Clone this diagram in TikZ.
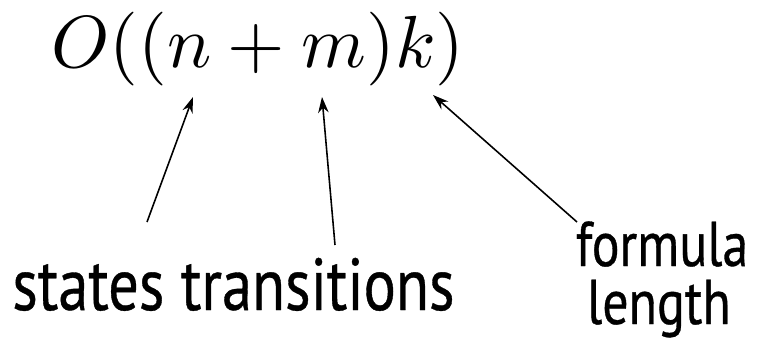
\documentclass[tikz,border=0pt]{standalone}
\usepackage{amsmath}
\usepackage{graphicx}
\usepackage{fontspec}
\newfontfamily\handfont[FakeStretch=0.82, FakeBold=0.5]{PT Sans}
\usetikzlibrary{arrows.meta, positioning}

\begin{document}
\begin{tikzpicture}[x=0.02cm, y=-0.02cm,
    lbl/.style={inner sep=0pt, font=\handfont\fontsize{42}{50}\selectfont},
    small lbl/.style={inner sep=0pt, font=\handfont\fontsize{36}{42}\selectfont},
    ptr/.style={-{Stealth[length=9pt, width=6pt]}, line width=0.9pt}
  ]
  \useasboundingbox (0,0) rectangle (761,342);

  % the bound
  \node[inner sep=0pt, anchor=base] (cost) at (258,67)
    {\scalebox{4.2}{$O((n+m)k)$}};

  % what each part counts
  \node[lbl, anchor=base west] (states) at (12,310) {states};
  \node[lbl, base right=9pt of states] (trans) {transitions};
  \node[small lbl, anchor=base] (formula) at (662,266) {formula};
  \node[small lbl, anchor=base] (length) at (659,324) {length};

  \coordinate (nHead) at (193,97);
  \coordinate (mHead) at (322,97);
  \coordinate (kHead) at (433,95);
  \coordinate (nTail) at (147,222);
  \coordinate (mTail) at (335,245);
  \coordinate (kTail) at (577,222);

  \draw[ptr] (nTail) -- (nHead);
  \draw[ptr] (mTail) -- (mHead);
  \draw[ptr] (kTail) -- (kHead);
\end{tikzpicture}
\end{document}
